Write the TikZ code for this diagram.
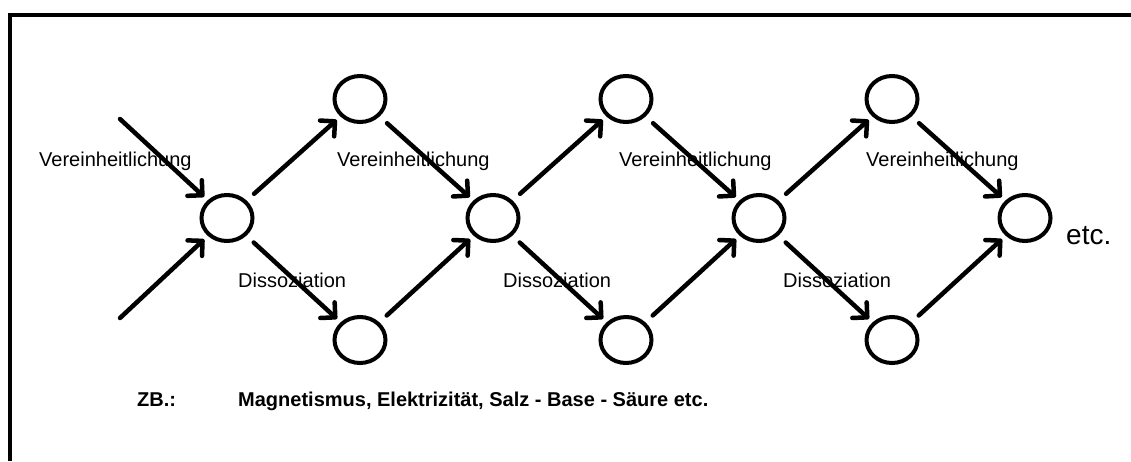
\documentclass[tikz,border=0pt]{standalone}
\usepackage{fontspec}
\setmainfont{Liberation Sans}
\usetikzlibrary{arrows.meta,shapes.geometric}
\tikzset{
  ring/.style={draw, ellipse, line width=4pt, minimum width=51pt, minimum height=46pt, inner sep=0pt},
  arr/.style={line width=4.5pt, line cap=round, -{Straight Barb[angle=90:15pt, round]}, shorten <=10pt, shorten >=5pt},
  lbl/.style={anchor=base west, inner sep=0pt, font=\fontsize{20}{24}\selectfont},
  note/.style={anchor=base west, inner sep=0pt, font=\fontsize{20}{24}\selectfont\bfseries},
  frame/.style={line width=4pt}
}
\begin{document}
\begin{tikzpicture}[x=1pt,y=-1pt]
\useasboundingbox (0,0) rectangle (1131,461);
\draw[frame] (1131,15) -- (9.5,15) -- (9.5,461);
% circles
\node[ring] (m1) at (227,218) {};
\node[ring] (m2) at (493,218) {};
\node[ring] (m3) at (759,218) {};
\node[ring] (m4) at (1025,218) {};
\node[ring] (t1) at (360,99) {};
\node[ring] (t2) at (626,99) {};
\node[ring] (t3) at (892,99) {};
\node[ring] (b1) at (360,340) {};
\node[ring] (b2) at (626,340) {};
\node[ring] (b3) at (892,340) {};
\coordinate (s1) at (120,119);
\coordinate (s2) at (120,318);
% arrows
\draw[arr, shorten <=0pt] (s1) -- (m1);
\draw[arr, shorten <=0pt] (s2) -- (m1);
\draw[arr] (m1) -- (t1);
\draw[arr] (m1) -- (b1);
\draw[arr] (t1) -- (m2);
\draw[arr] (b1) -- (m2);
\draw[arr] (m2) -- (t2);
\draw[arr] (m2) -- (b2);
\draw[arr] (t2) -- (m3);
\draw[arr] (b2) -- (m3);
\draw[arr] (m3) -- (t3);
\draw[arr] (m3) -- (b3);
\draw[arr] (t3) -- (m4);
\draw[arr] (b3) -- (m4);
% labels
\node[lbl] (v1) at (39,166) {Vereinheitlichung};
\node[lbl] (v2) at (337,166) {Vereinheitlichung};
\node[lbl] (v3) at (619,166) {Vereinheitlichung};
\node[lbl] (v4) at (866,166) {Vereinheitlichung};
\node[lbl] (d1) at (238,287) {Dissoziation};
\node[lbl] (d2) at (503,287) {Dissoziation};
\node[lbl] (d3) at (783,287) {Dissoziation};
\node[anchor=base west, inner sep=0pt, font=\fontsize{28}{32}\selectfont] (etc) at (1066,244) {etc.};
\node[note] (zb) at (137,406) {ZB.:};
\node[note] (ex) at (238,406) {Magnetismus, Elektrizität, Salz - Base - Säure etc.};
\end{tikzpicture}
\end{document}
